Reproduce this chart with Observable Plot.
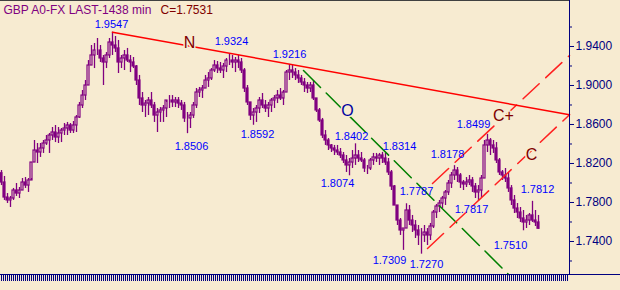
<!DOCTYPE html>
<html><head><meta charset="utf-8">
<script src="https://cdn.jsdelivr.net/npm/d3@7"></script>
<script src="https://cdn.jsdelivr.net/npm/@observablehq/plot@0.6"></script>
<style>
html,body{margin:0;padding:0;background:#F7EBD1;}
</style></head><body><div id="chart"></div>
<script>
// ---- data ----
const titleMain = "GBP A0-FX LAST-1438 min";
const titleClose = "C=1.7531";
const firstOpen = 1.8100;
const hi = [
1.8128,1.8067,1.7892,1.7862,1.7944,1.7995,1.7954,1.8046,1.8056,1.8046,
1.8210,1.8436,1.8405,1.8405,1.8436,1.8487,1.8508,1.8569,1.8590,1.8569,
1.8559,1.8610,1.8621,1.8610,1.8631,1.8692,1.8826,1.8949,1.9051,1.9256,
1.9410,1.9431,1.9482,1.9410,1.9308,1.9338,1.9482,1.9547,1.9503,1.9462,
1.9308,1.9359,1.9380,1.9308,1.9287,1.9205,1.9103,1.8928,1.8846,1.8877,
1.8928,1.8826,1.8764,1.8774,1.8795,1.8826,1.8897,1.8897,1.8877,1.8877,
1.8846,1.8826,1.8723,1.8723,1.8826,1.8969,1.8980,1.9000,1.9103,1.9133,
1.9174,1.9256,1.9246,1.9236,1.9226,1.9277,1.9324,1.9308,1.9287,1.9308,
1.9277,1.9174,1.9000,1.8826,1.8764,1.8795,1.8877,1.8918,1.8846,1.8826,
1.8867,1.8897,1.8949,1.8969,1.8949,1.9154,1.9216,1.9205,1.9174,1.9154,
1.9103,1.9072,1.9031,1.9031,1.9051,1.8867,1.8764,1.8662,1.8538,1.8456,
1.8395,1.8385,1.8385,1.8354,1.8313,1.8282,1.8251,1.8333,1.8402,1.8333,
1.8313,1.8251,1.8180,1.8251,1.8303,1.8303,1.8303,1.8314,1.8303,1.8251,
1.8128,1.7974,1.7769,1.7636,1.7533,1.7787,1.7769,1.7667,1.7615,1.7564,
1.7533,1.7564,1.7533,1.7585,1.7718,1.7780,1.7821,1.7862,1.7923,1.8026,
1.8108,1.8178,1.8159,1.8097,1.8026,1.8056,1.8077,1.8056,1.7995,1.7974,
1.8077,1.8436,1.8499,1.8456,1.8436,1.8415,1.8251,1.8128,1.8149,1.8108,
1.7974,1.7872,1.7790,1.7749,1.7718,1.7667,1.7687,1.7812,1.7718,1.7667];
const lo = [
1.7974,1.7821,1.7790,1.7749,1.7821,1.7862,1.7841,1.7923,1.7944,1.7903,
1.8046,1.8210,1.8200,1.8262,1.8303,1.8385,1.8303,1.8436,1.8415,1.8405,
1.8415,1.8487,1.8487,1.8508,1.8508,1.8518,1.8662,1.8764,1.8846,1.9000,
1.9205,1.9174,1.9308,1.9236,1.9000,1.9174,1.9277,1.9308,1.9338,1.9123,
1.9174,1.9154,1.9236,1.9133,1.9174,1.9000,1.8795,1.8723,1.8672,1.8692,
1.8764,1.8621,1.8518,1.8621,1.8621,1.8672,1.8764,1.8774,1.8774,1.8764,
1.8744,1.8621,1.8506,1.8559,1.8662,1.8764,1.8877,1.8867,1.8969,1.8980,
1.9051,1.9133,1.9123,1.9123,1.9072,1.9133,1.9205,1.9174,1.9133,1.9174,
1.9123,1.8928,1.8795,1.8641,1.8592,1.8621,1.8713,1.8764,1.8723,1.8672,
1.8723,1.8764,1.8815,1.8846,1.8795,1.8928,1.9051,1.9072,1.9051,1.9021,
1.9000,1.8928,1.8918,1.8928,1.8846,1.8723,1.8621,1.8456,1.8385,1.8333,
1.8313,1.8282,1.8282,1.8251,1.8200,1.8108,1.8074,1.8149,1.8180,1.8210,
1.8210,1.8108,1.8087,1.8128,1.8180,1.8210,1.8180,1.8200,1.8180,1.8077,
1.7923,1.7769,1.7564,1.7462,1.7309,1.7533,1.7564,1.7492,1.7431,1.7359,
1.7270,1.7390,1.7359,1.7410,1.7533,1.7636,1.7697,1.7738,1.7769,1.7872,
1.7944,1.8026,1.8005,1.7944,1.7923,1.7954,1.7974,1.7903,1.7841,1.7817,
1.7851,1.8046,1.8313,1.8282,1.8303,1.8200,1.8077,1.8026,1.8005,1.7903,
1.7769,1.7687,1.7636,1.7595,1.7510,1.7533,1.7564,1.7595,1.7554,1.7523];
const cl = [
1.8005,1.7851,1.7821,1.7841,1.7923,1.7892,1.7923,1.8005,1.7974,1.8026,
1.8210,1.8333,1.8313,1.8354,1.8405,1.8436,1.8487,1.8518,1.8467,1.8508,
1.8538,1.8559,1.8590,1.8538,1.8590,1.8672,1.8795,1.8897,1.9000,1.9205,
1.9308,1.9359,1.9359,1.9277,1.9236,1.9308,1.9441,1.9410,1.9380,1.9236,
1.9277,1.9308,1.9256,1.9236,1.9195,1.9051,1.8867,1.8795,1.8815,1.8846,
1.8795,1.8692,1.8723,1.8744,1.8764,1.8846,1.8846,1.8826,1.8846,1.8815,
1.8795,1.8662,1.8662,1.8692,1.8795,1.8928,1.8949,1.8969,1.9051,1.9072,
1.9154,1.9205,1.9174,1.9154,1.9195,1.9256,1.9256,1.9236,1.9256,1.9236,
1.9154,1.8969,1.8826,1.8692,1.8723,1.8764,1.8846,1.8795,1.8764,1.8795,
1.8846,1.8867,1.8897,1.8867,1.8928,1.9133,1.9154,1.9133,1.9103,1.9072,
1.9031,1.9000,1.8969,1.9000,1.8867,1.8744,1.8641,1.8487,1.8436,1.8385,
1.8354,1.8333,1.8313,1.8282,1.8231,1.8180,1.8210,1.8251,1.8282,1.8251,
1.8231,1.8149,1.8149,1.8231,1.8262,1.8251,1.8282,1.8251,1.8210,1.8108,
1.7964,1.7769,1.7615,1.7513,1.7533,1.7718,1.7615,1.7564,1.7513,1.7462,
1.7462,1.7492,1.7462,1.7554,1.7697,1.7759,1.7790,1.7841,1.7903,1.7995,
1.8077,1.8128,1.8077,1.8005,1.7985,1.8005,1.8026,1.7964,1.7903,1.7923,
1.8046,1.8385,1.8436,1.8385,1.8354,1.8231,1.8108,1.8077,1.8046,1.7944,
1.7821,1.7738,1.7697,1.7636,1.7595,1.7615,1.7667,1.7615,1.7595,1.7531];

const yTicksMajor = [1.94, 1.90, 1.86, 1.82, 1.78, 1.74];
const yTicksMinor = [1.96, 1.92, 1.88, 1.84, 1.80, 1.76, 1.72];

const priceLabels = ["1.9547","1.9324","1.9216","1.8506","1.8592","1.8402","1.8074","1.8314","1.7309","1.7270","1.7787","1.8178","1.7817","1.8499","1.7510","1.7812"];
const priceLabelBar = [36.67, 76.67, 96, 63.33, 85.33, 116.67, 112, 132.67, 129.33, 141.67, 138.33, 148.67, 156.67, 157.33, 169.67, 178.67];
const priceLabelAt = [1.9626, 1.9451, 1.9318, 1.8374, 1.8497, 1.8482, 1.8000, 1.8374, 1.7205, 1.7164, 1.7913, 1.8292, 1.7733, 1.8605, 1.7359, 1.7933];

const waveText = ["N", "O", "C+", "C"];
const waveBar = [62.67, 115.33, 167.33, 176.67];
const waveAt = [1.9436, 1.8744, 1.8692, 1.8292];
const waveColor = ["#800000", "#0000A0", "#800000", "#800000"];

// trend lines: [bar, price] end points
const lineN   = [[37, 1.9547], [189.33, 1.8700]];
const lineO   = [[100.67, 1.9154], [169, 1.7062]];
const lineCUp = [[143.67, 1.7995], [189.33, 1.9308]];
const lineCLo = [[142, 1.7328], [189.33, 1.8700]];

// ---- build ----
const bars = hi.map((h, i) => {
  const open = i === 0 ? firstOpen : cl[i - 1];
  return {i, hi: h, lo: lo[i], open, close: cl[i], down: cl[i] < open,
          top: Math.max(open, cl[i]), bot: Math.min(open, cl[i])};
});
const labels = priceLabels.map((t, k) => ({t, x: priceLabelBar[k], y: priceLabelAt[k]}));
const waves = waveText.map((t, k) => ({t, x: waveBar[k], y: waveAt[k], c: waveColor[k]}));
const pts = a => a.map(([x, y]) => ({x, y}));

const xDomain = [-1/3, 568/3];
const yDomain = [1.70615, 1.98718];
const xTicks = d3.range(0, 284).map(k => k * 2 / 3);
const bg = "#F7EBD1", navy = "#000080", purple = "#800080";

const chart = Plot.plot({
  width: 620, height: 290,
  marginTop: 0, marginBottom: 16, marginLeft: 0, marginRight: 51,
  style: {background: bg, fontFamily: "'Liberation Sans', Arial, sans-serif", overflow: "visible"},
  x: {type: "linear", domain: xDomain, axis: null},
  y: {type: "linear", domain: yDomain, axis: null},
  marks: [
    Plot.ruleY([yDomain[1]], {stroke: "#404040"}),
    // candles
    Plot.ruleX(bars, {x: "i", y1: "hi", y2: "top", stroke: purple, strokeWidth: 1.3}),
    Plot.ruleX(bars, {x: "i", y1: "bot", y2: "lo", stroke: purple, strokeWidth: 1.3}),
    Plot.rect(bars, {x1: d => d.i - 1/3, x2: d => d.i + 1/3, y1: "open", y2: "close",
                     stroke: purple, strokeWidth: 1.2, fill: d => d.down ? purple : "none"}),
    // trend lines
    Plot.line(pts(lineO), {x: "x", y: "y", stroke: "#008000", strokeDasharray: "24,8"}),
    Plot.line(pts(lineCUp), {x: "x", y: "y", stroke: "#FF2020", strokeDasharray: "22,9"}),
    Plot.line(pts(lineCLo), {x: "x", y: "y", stroke: "#FF2020", strokeDasharray: "22,9"}),
    Plot.line(pts(lineN), {x: "x", y: "y", stroke: "#FF0000"}),
    // axes
    Plot.ruleX([xDomain[1]], {y1: yDomain[0], y2: yDomain[1], stroke: navy}),
    Plot.ruleY([yDomain[0]], {x1: xDomain[0], x2: 206.4, stroke: navy}),
    Plot.axisY({anchor: "right", ticks: yTicksMajor, tickSize: 4, tickPadding: 2, tickFormat: d3.format(".4f"),
                fontSize: 12, stroke: navy, fill: navy, color: navy, label: null}),
    Plot.axisY({anchor: "right", ticks: yTicksMinor, tickSize: 2, tickFormat: () => "",
                stroke: navy, color: navy, label: null}),
    Plot.axisX({anchor: "bottom", ticks: xTicks, tickSize: 7, tickFormat: () => "",
                stroke: navy, color: navy, label: null}),
    // labels
    Plot.text(labels, {x: "x", y: "y", text: "t", fill: "#0000FF", fontSize: 11, textAnchor: "middle", lineAnchor: "middle"}),
    Plot.text(waves, {x: "x", y: "y", text: "t", fill: d => d.c, fontSize: 16, textAnchor: "middle", lineAnchor: "middle",
                      stroke: bg, strokeWidth: 3}),
    // title
    Plot.text([titleMain], {frameAnchor: "top-left", dx: 3, dy: 5, lineAnchor: "top", textAnchor: "start", fill: purple, fontSize: 12}),
    Plot.text([titleClose], {frameAnchor: "top-left", dx: 160, dy: 5, lineAnchor: "top", textAnchor: "start", fill: "#800000", fontSize: 12})
  ]
});
document.getElementById("chart").appendChild(chart);
</script></body></html>
